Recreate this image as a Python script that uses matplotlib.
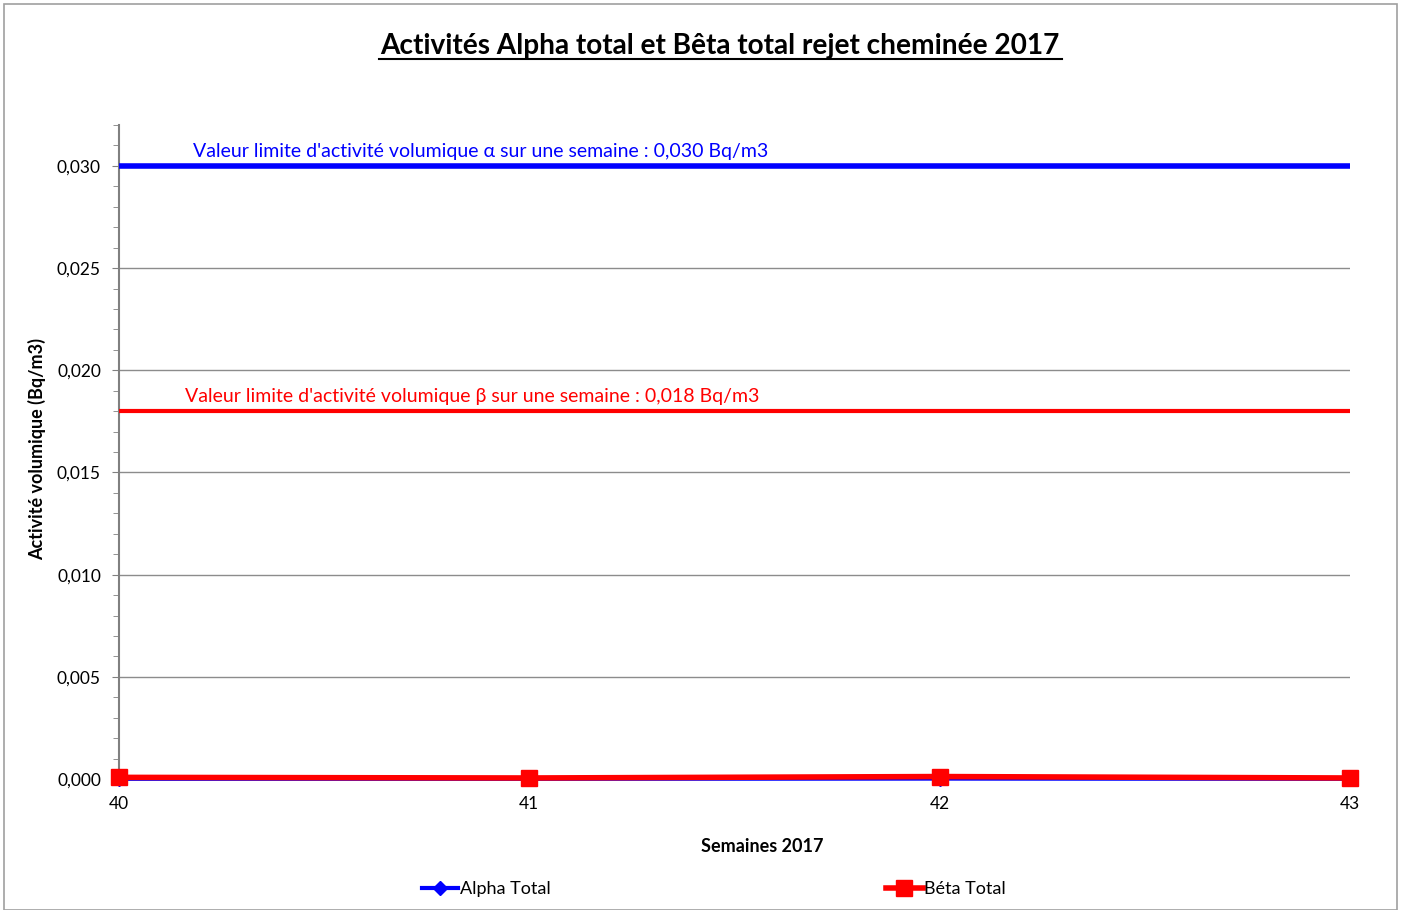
import matplotlib
matplotlib.use("Agg")
import matplotlib.pyplot as plt
from matplotlib.patches import Rectangle
from matplotlib.ticker import MultipleLocator, FuncFormatter

weeks = [40, 41, 42, 43]
alpha_total = [0.00001, 0.00001, 0.00002, 0.00001]
beta_total = [0.00008, 0.00005, 0.00012, 0.00005]
alpha_limit = 0.030
beta_limit = 0.018

plt.rcParams['font.family'] = ['Lato', 'DejaVu Sans']

fig = plt.figure(figsize=(14.02, 9.10), dpi=100)
W, H = 1402, 910
ax = fig.add_axes([119 / W, 1 - 779 / H, (1350 - 119) / W, (779 - 125) / H])
ax.set_ylim(0, 0.032)
ax.set_xlim(40, 43)

fig.patches.append(Rectangle((4 / W, 0), (1397 - 4) / W, 1 - 4 / H, transform=fig.transFigure,
                             fill=False, edgecolor='#a0a0a0', lw=1.2))

ax.yaxis.set_major_locator(MultipleLocator(0.005))
ax.yaxis.set_minor_locator(MultipleLocator(0.001))
ax.yaxis.set_major_formatter(FuncFormatter(lambda v, p: f"{v:.3f}".replace('.', ',')))
ax.set_xticks(weeks)
ax.set_xticklabels([str(w) for w in weeks])
ax.grid(axis='y', which='major', color='#8c8c8c', lw=1)
ax.set_axisbelow(True)
for s in ['top', 'right']:
    ax.spines[s].set_visible(False)
ax.spines['left'].set_color('#808080')
ax.spines['left'].set_linewidth(1.5)
ax.spines['bottom'].set_color('#808080')
ax.tick_params(axis='y', which='major', length=5, color='#808080', labelsize=12.5, pad=8)
ax.tick_params(axis='y', which='minor', length=4, color='#808080')
ax.tick_params(axis='x', length=0, labelsize=12.5, pad=12)

ax.plot([weeks[0], weeks[-1] - 0.005], [alpha_limit, alpha_limit], color='#0000ff', lw=4, zorder=3)
ax.plot([weeks[0], weeks[-1] - 0.005], [beta_limit, beta_limit], color='#ff0000', lw=3, zorder=3)
ax.text(40.18, alpha_limit + 0.0003, "Valeur limite d'activité volumique α sur une semaine : 0,030 Bq/m3",
        color='#0000ff', fontsize=14, va='bottom')
ax.text(40.16, beta_limit + 0.0003, "Valeur limite d'activité volumique β sur une semaine : 0,018 Bq/m3",
        color='#ff0000', fontsize=14, va='bottom')

ax.plot(weeks, alpha_total, color='#0000ff', lw=3, marker='D', ms=7, label='Alpha Total', zorder=4, clip_on=False)
ax.plot(weeks, beta_total, color='#ff0000', lw=4, marker='s', ms=11, label='Béta Total', zorder=5, clip_on=False)

fig.text(37 / W, 1 - 449 / H, 'Activité volumique (Bq/m3)', rotation=90, ha='center', va='center',
         fontsize=13, fontweight='bold')
fig.text(762 / W, 1 - 847 / H, 'Semaines 2017', ha='center', va='center', fontsize=13, fontweight='bold')

fig.text(720 / W, 1 - 46 / H, 'Activités Alpha total et Bêta total rejet cheminée 2017',
         ha='center', va='center', fontsize=20.2, fontweight='bold')
fig.add_artist(plt.Line2D([379 / W, 1062 / W], [1 - 59 / H, 1 - 59 / H], color='black', lw=1.5))

leg = fig.legend(loc='center', bbox_to_anchor=(714 / W, 1 - 889 / H), ncol=2, frameon=False,
                 fontsize=13, columnspacing=18.6, handlelength=2.0, handletextpad=0.1)

fig.savefig('out.png', dpi=100)
